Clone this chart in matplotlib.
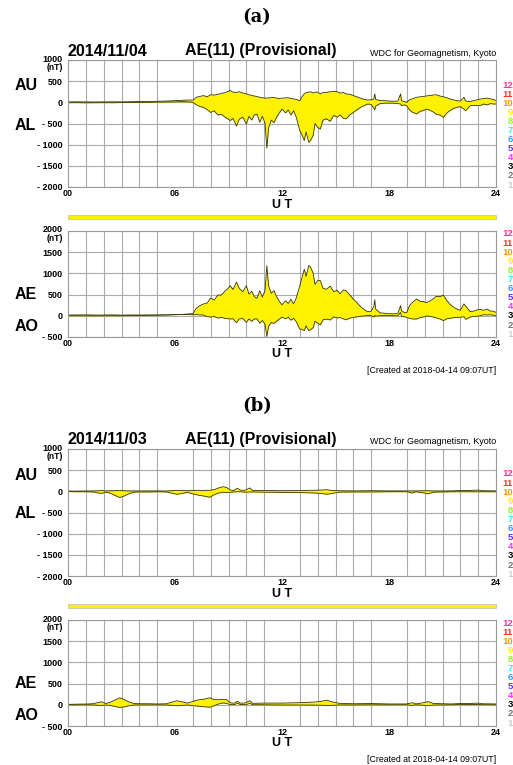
#Two days of AU/AL and AE/AO quick-look plots, stacked (a) and (b)
import numpy as np
import matplotlib
matplotlib.use("Agg")
import matplotlib.pyplot as plt
import matplotlib.transforms as mtransforms
from matplotlib.patches import Rectangle

W, H = 513, 765

# 2014/11/04 - hours UT, AU and AL in nT
t_a = [0.0, 0.5, 1.0, 1.5, 2.0, 2.5, 3.0, 3.5, 4.0, 4.5, 5.0, 5.5, 6.0, 6.25, 6.5, 6.75,
       7.0, 7.2, 7.4, 7.6, 7.8, 8.0, 8.2, 8.4, 8.6, 8.8, 9.0, 9.1, 9.25, 9.45, 9.6, 9.8,
       10.0, 10.15, 10.3, 10.45, 10.6, 10.75, 10.9, 11.05, 11.15, 11.25, 11.4, 11.55, 11.7, 11.85,
       12.0, 12.2, 12.35, 12.5, 12.65, 12.8, 13.0, 13.1, 13.25, 13.35, 13.5, 13.6, 13.75, 13.85,
       14.0, 14.15, 14.3, 14.5, 14.7, 14.9, 15.1, 15.25, 15.45, 15.6, 15.8, 16.0, 16.2, 16.4,
       16.6, 16.8, 17.0, 17.15, 17.2, 17.25, 17.5, 17.75, 18.0, 18.25, 18.5, 18.65, 18.7, 18.85,
       19.0, 19.15, 19.3, 19.55, 19.75, 19.9, 20.1, 20.25, 20.45, 20.65, 20.85, 21.05, 21.25, 21.4,
       21.6, 21.8, 22.0, 22.2, 22.3, 22.55, 22.75, 22.95, 23.15, 23.3, 23.5, 23.7, 23.85, 24.0]
au_a = [10, 12, 10, 8, 10, 12, 10, 15, 18, 20, 25, 30, 40, 45, 50, 55,
        50, 120, 140, 160, 130, 180, 170, 190, 210, 230, 260, 280, 240, 235, 250, 220,
        200, 180, 160, 150, 135, 120, 110, 100, 100, 105, 110, 115, 100, 90,
        100, 105, 110, 90, 80, 70, 40, 120, 200, 230, 240, 250, 220, 240,
        240, 200, 230, 235, 250, 260, 250, 220, 230, 200, 190, 160, 130, 100,
        70, 55, 60, 80, 200, 70, 40, 40, 30, 25, 30, 200, 40, 20,
        0, 60, 80, 120, 130, 140, 150, 160, 170, 180, 150, 130, 110, 80,
        60, 40, 30, 120, 30, 20, 40, 60, 80, 90, 100, 80, 70, 40]
al_a = [-10, -8, -12, -10, -8, -10, -5, -5, 0, 0, 5, 10, 10, 15, 15, 10,
        0, -60, -100, -120, -170, -240, -200, -300, -280, -350, -400, -430, -380, -560, -400, -350,
        -510, -330, -420, -300, -280, -470, -330, -500, -1080, -600, -420, -480, -350, -250,
        -160, -250, -180, -300, -200, -350, -670, -750, -900, -700, -945, -900, -780, -500,
        -590, -630, -420, -390, -450, -310, -350, -300, -380, -390, -300, -235, -180, -120,
        -80, -40, -50, -140, -180, -90, -30, -20, -20, -20, -30, -40, -80, -60,
        -80, -180, -230, -275, -210, -200, -160, -180, -220, -280, -300, -355, -250, -200,
        -150, -120, -100, -160, -200, -80, -70, -80, -70, -40, -60, -30, -40, -40]

# 2014/11/03
t_b = [0.0, 0.5, 1.0, 1.4, 1.7, 1.9, 2.1, 2.35, 2.6, 2.9, 3.1, 3.4, 3.7, 4.0, 4.5, 5.0,
       5.5, 5.9, 6.1, 6.4, 6.7, 7.0, 7.3, 7.6, 7.95, 8.2, 8.45, 8.7, 8.9, 9.1, 9.3, 9.5,
       9.65, 9.9, 10.2, 10.35, 11.0, 12.0, 13.0, 13.8, 14.2, 14.5, 14.8, 15.2, 16.0, 17.0,
       18.0, 19.0, 19.3, 19.5, 20.0, 20.2, 20.5, 21.0, 21.5, 22.0, 22.5, 23.0, 23.2, 24.0]
au_b = [5, 5, 8, 10, 15, 20, 10, 15, 15, 20, 15, 10, 10, 10, 10, 10,
        8, 20, 25, 20, 15, 20, 25, 20, 25, 40, 80, 110, 90, 30, 20, 75,
        30, 20, 80, 20, 20, 15, 20, 25, 30, 40, 20, 15, 10, 15,
        10, 10, 10, 10, 15, 15, 10, 10, 10, 20, 20, 30, 15, 10]
al_b = [-5, -10, -10, -15, -40, -50, -20, -40, -90, -145, -120, -60, -20, -15, -15, -10,
        -15, -50, -70, -50, -25, -60, -90, -110, -140, -80, -40, -20, -30, -20, -15, -10,
        -10, -20, -15, -15, -20, -25, -30, -40, -50, -70, -50, -20, -15, -15,
        -10, -10, -40, -10, -40, -60, -20, -15, -10, -10, -10, -10, -10, -10]

hour_ticks = [0, 6, 12, 18, 24]
hour_labels = ['00', '06', '12', '18', '24']
top_ticks = [1000, 500, 0, -500, -1000, -1500, -2000]
bot_ticks = [2000, 1500, 1000, 500, 0, -500]
level_labels = ['12', '11', '10', '9', '8', '7', '6', '5', '4', '3', '2', '1']
level_colors = ['#ff3399', '#ff3333', '#ff9900', '#ffee00', '#99ee33', '#33eedd',
                '#3399ff', '#5533ff', '#ff33ff', '#000000', '#777777', '#cccccc']

SANS = 'Liberation Sans'
FILL = '#fff200'
EDGE = '#333300'


def fx(x):
    return x / W


def fy(y):
    return 1 - y / H


def box(left, top, right, bottom):
    return [fx(left), fy(bottom), (right - left) / W, (bottom - top) / H]


def ylab(v):
    return '- %d' % -v if v < 0 else '%d' % v


def style(fig, ax, ticks, ymin, ymax):
    ax.set_xlim(0, 24)
    ax.set_ylim(ymin, ymax)
    ax.set_xticks(range(25), minor=True)
    ax.set_xticks(hour_ticks)
    ax.set_xticklabels(hour_labels, family=SANS, weight='bold', fontsize=6.5)
    ax.set_yticks(ticks)
    ax.set_yticklabels([ylab(v) for v in ticks], family=SANS, weight='bold', fontsize=6.5)
    ax.tick_params(which='both', length=0)
    ax.tick_params(axis='x', pad=1.5)
    ax.tick_params(axis='y', pad=4)
    ax.grid(True, which='minor', axis='x', color='#aaaaaa', lw=0.8)
    ax.grid(True, which='major', axis='y', color='#aaaaaa', lw=0.8)
    ax.set_axisbelow(True)
    for s in ax.spines.values():
        s.set_color('#999999')
        s.set_linewidth(0.8)
    # lift the top value a little so the unit fits underneath it
    top = ax.get_yticklabels()[0]
    top.set_transform(top.get_transform() +
                      mtransforms.ScaledTranslation(0, 2 / 100, fig.dpi_scale_trans))


def side_text(fig, y, text):
    fig.text(fx(15), fy(y), text, family=SANS, weight='bold', fontsize=11.5, ha='left', va='center')


def levels(fig, y_first):
    for i, (s, c) in enumerate(zip(level_labels, level_colors)):
        fig.text(fx(513), fy(y_first + i * 9.1), s, color=c, family=SANS, weight='bold',
                 fontsize=6.8, ha='right', va='center')


def draw_day(fig, off, letter, date, t, au, al):
    t = np.array(t, dtype=float)
    au = np.array(au, dtype=float)
    al = np.array(al, dtype=float)
    ae = au - al
    ao = (au + al) / 2

    fig.text(fx(257), fy(17 + off), letter, family='DejaVu Serif', weight='bold',
             fontsize=13, ha='center', va='center')
    fig.text(fx(68), fy(51 + off), date, family=SANS, weight='bold', fontsize=11.5, va='center')
    fig.text(fx(185), fy(51 + off), 'AE(11) (Provisional)', family=SANS, weight='bold',
             fontsize=11.5, va='center')
    fig.text(fx(496), fy(53 + off), 'WDC for Geomagnetism, Kyoto', family=SANS,
             fontsize=6.5, ha='right', va='center')

    # AU / AL
    ax1 = fig.add_axes(box(68, 60 + off, 496, 187 + off))
    style(fig, ax1, top_ticks, -2000, 1000)
    ax1.fill_between(t, al, au, color=FILL, lw=0)
    ax1.plot(t, au, color=EDGE, lw=0.6)
    ax1.plot(t, al, color=EDGE, lw=0.6)
    fig.text(fx(63), fy(67.5 + off), '(nT)', family=SANS, weight='bold', fontsize=6.2,
             ha='right', va='center')
    fig.text(fx(282), fy(205 + off), 'U T', family=SANS, weight='bold', fontsize=9,
             ha='center', va='center')
    side_text(fig, 86 + off, 'AU')
    side_text(fig, 125 + off, 'AL')
    levels(fig, 85 + off)

    # yellow strip between the two panels
    fig.patches.append(Rectangle((fx(68), fy(219 + off)), (496 - 68) / W, 4.5 / H,
                                 transform=fig.transFigure, facecolor=FILL,
                                 edgecolor='#bbbbbb', lw=0.5))

    # AE / AO
    ax2 = fig.add_axes(box(68, 231 + off, 496, 337 + off))
    style(fig, ax2, bot_ticks, -500, 2000)
    ax2.fill_between(t, ao, ae, color=FILL, lw=0)
    ax2.plot(t, ae, color=EDGE, lw=0.6)
    ax2.plot(t, ao, color=EDGE, lw=0.6)
    fig.text(fx(63), fy(238.5 + off), '(nT)', family=SANS, weight='bold', fontsize=6.2,
             ha='right', va='center')
    fig.text(fx(282), fy(354 + off), 'U T', family=SANS, weight='bold', fontsize=9,
             ha='center', va='center')
    side_text(fig, 295 + off, 'AE')
    side_text(fig, 326 + off, 'AO')
    levels(fig, 234 + off)

    fig.text(fx(496), fy(370 + off), '[Created at 2018-04-14 09:07UT]', family=SANS,
             fontsize=6.3, ha='right', va='center')


fig = plt.figure(figsize=(W / 100, H / 100), dpi=100)
draw_day(fig, 0, '(a)', '2014/11/04', t_a, au_a, al_a)
draw_day(fig, 389, '(b)', '2014/11/03', t_b, au_b, al_b)
fig.savefig('out.png', dpi=100)
